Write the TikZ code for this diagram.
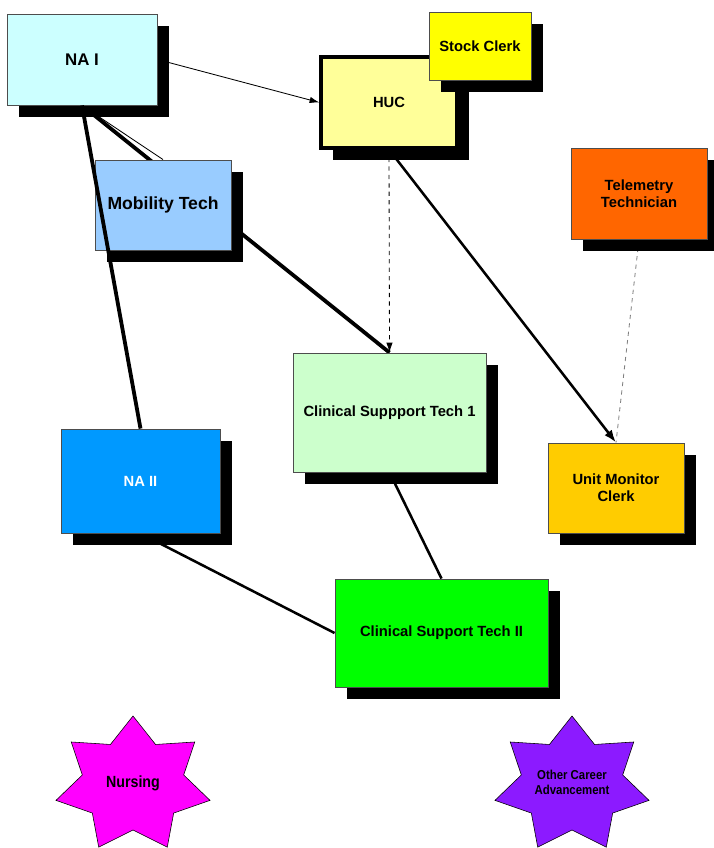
\documentclass[tikz,border=0pt]{standalone}
\usepackage{fontspec}
\setmainfont{Liberation Sans}
\usetikzlibrary{arrows.meta,shadows,backgrounds}

\definecolor{boxline}{HTML}{4D4D4D}
\definecolor{naIclr}{HTML}{CCFFFF}
\definecolor{mobclr}{HTML}{99CCFF}
\definecolor{hucclr}{HTML}{FFFF99}
\definecolor{stockclr}{HTML}{FFFF00}
\definecolor{teleclr}{HTML}{FF6600}
\definecolor{cstIclr}{HTML}{CCFFCC}
\definecolor{naIIclr}{HTML}{0099FF}
\definecolor{umcclr}{HTML}{FFCC00}
\definecolor{cstIIclr}{HTML}{00FF00}
\definecolor{nurseclr}{HTML}{FF00FF}
\definecolor{otherclr}{HTML}{8C1AFF}

\tikzset{
	job/.style={draw=boxline, line width=0.6pt, align=center, inner sep=2pt,
		font=\fontsize{10.5}{12}\selectfont\bfseries,
		drop shadow={shadow xshift=0.29cm, shadow yshift=-0.29cm, fill=black, opacity=1}},
	thinlink/.style={line width=0.6pt},
	midlink/.style={line width=1.8pt},
	heavylink/.style={line width=2.7pt},
	startext/.style={align=center, font=\fontsize{11.5}{13}\selectfont\bfseries\addfontfeature{FakeStretch=0.88}}
}

\begin{document}
\begin{tikzpicture}[x=0.025cm, y=-0.025cm]
	
	\useasboundingbox (0,0) rectangle (713,848);
	
	% boxes
	\node[job, fill=naIclr, minimum width=3.75cm, minimum height=2.275cm, font=\fontsize{12}{14}\selectfont\bfseries] (naI) at (82,59.5) {NA I};
	\node[job, fill=mobclr, minimum width=3.4cm, minimum height=2.25cm, font=\fontsize{12.5}{14}\selectfont\bfseries] (mob) at (163,205) {Mobility Tech};
	\node[job, fill=hucclr, draw=black, line width=2.2pt, minimum width=3.4cm, minimum height=2.275cm] (huc) at (389,102.5) {HUC};
	\node[job, fill=stockclr, minimum width=2.55cm, minimum height=1.7cm] (stock) at (480,46) {Stock Clerk};
	\node[job, fill=teleclr, minimum width=3.4cm, minimum height=2.275cm] (tele) at (639,193.5) {Telemetry\\Technician};
	\node[job, fill=cstIclr, minimum width=4.825cm, minimum height=2.975cm] (cstI) at (389.5,412.5) {Clinical Suppport Tech 1};
	\node[job, fill=naIIclr, text=white, minimum width=3.975cm, minimum height=2.6cm] (naII) at (140.5,481) {NA II};
	\node[job, fill=umcclr, minimum width=3.4cm, minimum height=2.25cm] (umc) at (616,488) {Unit Monitor\\Clerk};
	\node[job, fill=cstIIclr, minimum width=5.325cm, minimum height=2.7cm] (cstII) at (441.5,633) {Clinical Support Tech II};
	
	% links behind the boxes
	\begin{pgfonlayer}{background}
		\draw[thinlink, -{Latex[length=7pt, width=4.5pt]}] (naI.east) -- (huc.west);
		\draw[thinlink] (naI.south) -- (mob.north);
		\draw[heavylink] (naI.south) -- (cstI.north);
		\draw[thinlink, dashed, -{Latex[length=7pt, width=4.5pt]}] (huc.south) -- (cstI.north);
		\draw[midlink, -{Latex[length=9pt, width=6.5pt]}] (huc.south) -- (umc.north);
		\draw[thinlink, dashed, gray] (tele.south) -- (umc.north);
		\draw[midlink] (cstI.south) -- (cstII.north);
		\draw[midlink] (naII.south) -- (cstII.west);
	\end{pgfonlayer}
	
	% NA I to NA II over mobility tech
	\draw[heavylink] (naI.south) -- (naII.north);
	
	% stars
	\coordinate (nursec) at (133,785);
	\coordinate (otherc) at (572,785);
	\draw[line width=0.4pt, fill=nurseclr, shift={(nursec)}] (-90:79 and 69) \foreach \k in {0,...,6} { -- ({-90+\k*360/7+180/7}:52 and 45) -- ({-90+(\k+1)*360/7}:79 and 69) } -- cycle;
	\draw[line width=0.4pt, fill=otherclr, shift={(otherc)}] (-90:79 and 69) \foreach \k in {0,...,6} { -- ({-90+\k*360/7+180/7}:52 and 45) -- ({-90+(\k+1)*360/7}:79 and 69) } -- cycle;
	\node[startext] (nurse) at (133,783) {Nursing};
	\node[startext, font=\fontsize{9.2}{10.8}\selectfont\bfseries\addfontfeature{FakeStretch=0.88}] (other) at (572,782) {Other Career\\Advancement};
	
\end{tikzpicture}
\end{document}
